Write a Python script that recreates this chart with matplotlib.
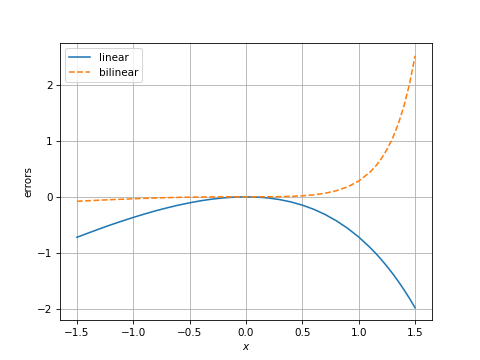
import matplotlib
matplotlib.use('Agg')
import matplotlib.pyplot as plt

# values
x = [-1.5, -1.4, -1.3, -1.2, -1.1, -1.0, -0.9, -0.8, -0.7, -0.6, -0.5,
     -0.4, -0.3, -0.2, -0.1, 0.0, 0.1, 0.2, 0.3, 0.4, 0.5, 0.6, 0.7,
     0.8, 0.9, 1.0, 1.1, 1.15, 1.2, 1.25, 1.3, 1.35, 1.4, 1.45, 1.5]

linear_err = [-0.723, -0.647, -0.573, -0.501, -0.433, -0.368, -0.307,
              -0.249, -0.197, -0.149, -0.107, -0.070, -0.041, -0.019,
              -0.005, 0.0, -0.005, -0.021, -0.050, -0.092, -0.149,
              -0.222, -0.314, -0.426, -0.560, -0.718, -0.904, -1.008,
              -1.120, -1.240, -1.369, -1.507, -1.655, -1.813, -1.982]

bilinear_err = [-0.080, -0.070, -0.060, -0.051, -0.043, -0.035, -0.027,
                -0.021, -0.015, -0.010, -0.0065, -0.0037, -0.0017,
                -0.0005, -0.0001, 0.0, 0.0001, 0.0008, 0.0031, 0.0082,
                0.0179, 0.0350, 0.0632, 0.1078, 0.1768, 0.2817, 0.4403,
                0.5477, 0.6799, 0.8430, 1.0450, 1.2964, 1.6115, 2.0096,
                2.5183]

fig, ax = plt.subplots(figsize=(6.4, 4.8), dpi=75)
ax.plot(x, linear_err, label='linear')
ax.plot(x, bilinear_err, '--', label='bilinear')
ax.set_xlabel('$x$')
ax.set_ylabel('errors')
ax.grid(True)
ax.legend(loc='upper left')

fig.savefig('out.png', dpi=75)
